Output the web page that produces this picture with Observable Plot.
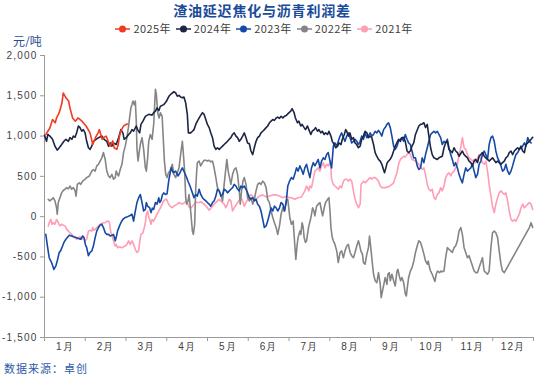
<!DOCTYPE html>
<html><head><meta charset="utf-8">
<script src="https://cdn.jsdelivr.net/npm/d3@7"></script>
<script src="https://cdn.jsdelivr.net/npm/@observablehq/plot@0.6"></script>
<style>
body{margin:0;background:#fff;width:550px;height:378px;position:relative;overflow:hidden;font-family:"Noto Sans CJK SC",sans-serif;}
#title{position:absolute;left:0;top:0;width:524px;height:20.4px;text-align:center;font-size:14px;letter-spacing:0.8px;font-weight:bold;color:#1a4b9b;line-height:20.4px;}
#legend{position:absolute;left:0;top:22px;width:528px;height:13px;display:flex;justify-content:center;gap:5px;font-size:11px;letter-spacing:0.4px;color:#404040;line-height:13px;}
.item{display:flex;align-items:center;white-space:nowrap;}
.item svg{margin-right:3px;flex:none;}
#unit{position:absolute;left:13px;top:34px;font-size:12px;color:#2b4c8c;line-height:14px;}
#chart{position:absolute;left:0;top:47px;}
#caption{position:absolute;left:4px;top:361px;font-size:11px;color:#2e5aa8;letter-spacing:1px;line-height:14px;}
</style></head>
<body>
<div id="title"></div>
<div id="legend"></div>
<div id="unit"></div>
<div id="chart"></div>
<div id="caption"></div>
<script>
const titleText = "渣油延迟焦化与沥青利润差";
const unitText = "元/吨";
const captionText = "数据来源：卓创";
const years = ["2025年","2024年","2023年","2022年","2021年"];
const colors = ["#f23a22","#1c2545","#1649a6","#858585","#ff9db4"];
const monthLabels = ["1月","2月","3月","4月","5月","6月","7月","8月","9月","10月","11月","12月"];
const yTicks = [-1500,-1000,-500,0,500,1000,1500,2000];
const yTickLabels = ["-1,500","-1,000","-500","0","500","1,000","1,500","2,000"];

// [day of year, value]
const d2025 = [[1,1020],[4,1100],[6,1205],[8,1165],[9,1225],[11,1290],[13,1410],[14,1535],[16,1475],[18,1435],[19,1350],[21,1225],[23,1185],[25,1225],[28,1185],[31,1125],[34,1040],[36,895],[38,980],[40,1040],[41,1080],[43,960],[44,980],[46,1000],[48,915],[49,875],[51,940],[52,855],[54,835],[55,895],[56,1000],[57,1060],[59,1125],[61,1145],[62,1150]];

const d2024 = [[0,1010],[1.5,935],[2.5,1020],[4,1000],[6,960],[7.8,875],[9.5,825],[11,855],[12.8,895],[14.5,935],[16,960],[17.8,935],[19,980],[20.5,960],[21.5,1000],[22.8,985],[24,1040],[25.3,1125],[26.5,1105],[27.8,1060],[29,1080],[30.3,1040],[31.5,935],[32.8,855],[34,835],[35.3,875],[36.5,935],[38.5,960],[40.3,980],[42.8,1000],[44.5,960],[46.5,935],[47.8,875],[49,915],[50.3,875],[51.5,915],[53.5,895],[55.3,980],[57,1080],[58.5,1040],[59.5,960],[61,980],[62.8,1020],[64,1040],[65.3,1080],[66.5,1060],[68.5,1125],[69.5,1080],[71,1040],[72,1145],[73.5,1185],[75.3,1245],[77.8,1270],[80.3,1260],[81.5,1290],[82.8,1310],[84,1350],[85.3,1315],[86.5,1370],[89,1390],[91.1,1435],[92.9,1495],[94.6,1525],[96.6,1550],[97.9,1535],[99.1,1495],[100.4,1505],[101.6,1485],[102.9,1475],[104.1,1485],[105.4,1410],[106.6,1270],[107.4,1040],[109.1,1040],[110.4,1060],[111.6,1080],[112.9,1145],[114.1,1185],[116.1,1245],[117.9,1290],[119.1,1270],[120.4,1205],[121.6,1145],[122.9,1105],[124.1,1040],[125.4,980],[126.6,875],[127.9,835],[129.1,855],[130.4,835],[131.6,855],[132.9,875],[134.1,895],[135.4,915],[136.6,935],[137.9,960],[139.1,980],[140.4,1020],[141.6,1040],[142.9,1000],[144.1,980],[145.4,935],[146.6,960],[147.9,1000],[149.1,1040],[150.4,980],[151.6,915],[152.9,905],[154.1,815],[155.4,770],[156.6,855],[157.9,935],[159.1,980],[160.4,1000],[161.6,1040],[162.9,1060],[164.1,1080],[165.4,1105],[166.6,1125],[167.9,1165],[169.1,1185],[170.4,1205],[171.6,1195],[172.9,1225],[174.1,1235],[175.4,1220],[176.6,1245],[177.9,1225],[179.1,1245],[180.4,1255],[181.6,1275],[183.8,1310],[184.8,1340],[186.3,1290],[187.3,1225],[188.8,1165],[189.8,1185],[191.3,1125],[192.3,1145],[193.8,1105],[194.8,1080],[196.3,1125],[197.3,1080],[198.8,1020],[199.8,1060],[201.3,1080],[202.3,1105],[203.8,1060],[204.8,1080],[206.3,1040],[207.3,1060],[208.8,1020],[209.8,1040],[211.3,1020],[212.3,1060],[213.8,1000],[214.8,935],[216.3,895],[217.3,855],[218.8,875],[219.8,915],[221.3,895],[222.3,960],[223.8,1020],[224.8,1080],[225.6,1060],[226.8,1000],[228,1040],[229.3,960],[230.6,980],[231.8,915],[233,895],[234.3,855],[235.6,875],[236.8,960],[238,1000],[239.3,1060],[240.6,1040],[241.8,980],[243,1000],[244.3,980],[245.6,895],[246.8,795],[248,750],[249.3,710],[250.6,690],[251.8,650],[253,585],[253.8,545],[254.8,605],[255.8,670],[256.8,690],[258,710],[259.3,750],[260.6,815],[261.8,875],[263,915],[264.3,960],[265.6,935],[266.8,980],[268,985],[269.3,935],[270.6,815],[271.8,795],[273,815],[274.3,875],[275.6,915],[276.9,1020],[279.4,1125],[280.7,1145],[281.9,1150],[283.2,1165],[284.4,1105],[285.7,1145],[286.9,1000],[288.2,855],[289.4,770],[290.7,730],[293.2,710],[294.4,730],[296.9,750],[298.2,855],[299.4,915],[300.7,935],[301.9,835],[303.2,815],[304.4,795],[305.7,855],[306.9,815],[308.2,795],[309.4,750],[311.9,815],[313.2,770],[315.7,730],[316.9,690],[318.2,670],[319.4,630],[320.7,690],[321.9,710],[323.2,670],[324.4,750],[325.7,770],[326.9,795],[328.2,750],[329.4,730],[330.7,710],[331.9,690],[333.2,710],[334.4,730],[335.7,700],[336.9,670],[338.2,690],[339.4,670],[340.7,650],[341.9,670],[343.2,690],[344.4,730],[345.7,750],[346.9,795],[348.2,815],[349.4,770],[350.7,815],[351.9,835],[353.2,855],[354.4,835],[355.7,875],[356.9,815],[358.2,795],[359.4,895],[360.7,915],[361.9,935],[363.2,960],[364.4,985]];

const d2023 = [[1,-220],[2,-345],[3.5,-510],[5.3,-570],[7,-655],[8.5,-610],[9.5,-550],[11,-445],[12,-425],[13.5,-365],[14.5,-320],[16,-280],[17,-260],[18.5,-230],[20.3,-240],[21.5,-250],[23.5,-260],[25.3,-270],[27,-280],[28.5,-240],[29.5,-260],[30.5,-345],[31.5,-385],[32.8,-485],[34,-445],[35.3,-425],[36.5,-365],[37.8,-260],[39,-180],[40.3,-135],[41.5,-105],[42.8,-95],[44,-135],[45.3,-200],[46.5,-220],[47.8,-220],[49,-240],[50.3,-230],[51.5,-220],[52.8,-300],[53.5,-260],[54.5,-180],[56,-115],[57,-75],[58.5,-35],[60.3,-10],[62,0],[64,15],[65.3,30],[66.5,-55],[67.8,70],[69,175],[70.3,235],[71.5,275],[72.8,175],[74,70],[75.3,90],[76,175],[77,130],[78.5,110],[79.5,50],[80.5,105],[81.5,90],[82.8,175],[84,155],[85.3,235],[86,175],[87,200],[88,270],[89,295],[90.3,275],[91.5,285],[92.9,465],[94.6,605],[96.1,545],[97.9,565],[99.6,505],[101.1,545],[102.9,605],[104.6,545],[106.1,485],[107.1,440],[108.6,380],[110.4,295],[111.6,235],[112.9,275],[114.1,255],[115.4,340],[116.6,275],[117.9,235],[119.1,215],[120.4,195],[121.6,175],[122.9,155],[124.1,130],[125.4,175],[126.6,195],[127.9,255],[129.1,340],[130.4,320],[131.6,255],[132.9,275],[134.1,340],[135.4,325],[136.6,295],[137.9,320],[139.1,340],[140.4,360],[141.6,400],[142.9,380],[144.1,340],[145.4,320],[146.6,380],[147.9,360],[149.1,380],[150.4,340],[151.6,295],[152.9,235],[154.1,215],[155.4,235],[156.6,195],[157.9,215],[159.1,155],[160.4,130],[161.6,70],[162.9,-35],[164.1,-135],[165.4,-115],[166.6,-55],[167.9,30],[169.1,110],[170.4,70],[171.6,130],[172.9,110],[174.1,70],[175.4,110],[176.6,175],[177.9,155],[179.1,70],[180.4,175],[181.6,380],[182.9,440],[184.3,485],[185.6,465],[186.8,525],[188.1,605],[189.3,565],[190.6,630],[191.8,585],[193.1,525],[194.3,605],[195.6,650],[196.8,565],[198.1,485],[199.3,605],[200.6,670],[201.8,630],[203.1,670],[204.3,710],[205.6,605],[206.8,690],[208.1,730],[209.3,710],[210.6,770],[211.8,795],[213.1,690],[214.3,605],[215.1,770],[215.6,875],[216.8,915],[218.1,875],[219.3,935],[220.6,1000],[221.8,1040],[223.1,980],[224.3,935],[225.6,1000],[226.8,1040],[228.1,980],[229.3,915],[230.6,935],[231.8,960],[233.1,935],[234.3,895],[235.6,935],[236.8,1000],[238.1,960],[239.3,1040],[240.6,980],[241.8,1000],[243.1,1040],[244.3,1000],[245.6,1020],[246.8,1060],[248.1,1040],[249.3,1070],[250.6,1040],[251.8,1000],[253.1,1080],[254.3,1105],[255.6,1145],[256.8,1165],[258.1,1105],[259.3,1000],[260.6,875],[261.8,835],[263.1,875],[264.3,935],[265.6,960],[266.8,980],[268.1,935],[269.3,1020],[270.6,960],[271.8,915],[273.1,895],[274.3,815],[275.6,730],[276.9,730],[278.2,630],[279.4,585],[280.7,605],[281.9,730],[283.2,670],[284.4,770],[285.7,855],[286.9,935],[288.2,1020],[289.4,1040],[290.7,1060],[291.9,1040],[293.2,1060],[294.4,1020],[295.7,980],[296.9,895],[298.2,935],[299.4,915],[300.7,960],[301.9,855],[303.2,770],[304.4,710],[305.7,630],[306.9,670],[308.2,605],[309.4,525],[310.7,465],[311.9,420],[313.2,525],[314.4,605],[315.7,565],[316.9,585],[318.2,605],[319.4,650],[320.7,565],[321.9,485],[323.2,525],[324.4,650],[325.7,690],[326.9,770],[328.2,815],[329.4,770],[330.7,710],[331.9,895],[333.2,980],[334.4,1000],[335.7,935],[336.9,815],[338.2,730],[339.4,690],[340.7,630],[341.9,565],[343.2,585],[344.4,650],[345.7,565],[346.9,525],[348.2,565],[349.4,630],[350.7,710],[351.9,770],[353.2,795],[354.4,835],[355.7,855],[356.9,875],[358.2,915],[359.4,875],[360.7,980],[361.9,935],[363.2,915]];

const d2022 = [[2.8,215],[4,195],[5.3,215],[6.5,235],[7.8,195],[9,110],[9.5,30],[10.3,175],[11.5,235],[12.8,295],[14,325],[15.3,340],[16.5,360],[17.8,345],[19,380],[20.3,340],[21.5,360],[22.8,325],[23.5,255],[24.5,400],[26,420],[27,400],[28.5,440],[30.3,465],[31.5,485],[33.5,505],[35.3,565],[36.5,585],[37.8,565],[39,630],[40.3,650],[41.5,690],[42.8,730],[44,795],[45.3,710],[46.5,565],[47.8,505],[49,485],[50.3,525],[51.5,465],[52.8,485],[53.5,565],[54.5,525],[55.3,505],[56.5,585],[57.8,650],[59,795],[60.3,875],[61.5,980],[62.8,1125],[63.5,1225],[64.5,1350],[65.3,1390],[66,1435],[67,1390],[67.8,1435],[68.5,1185],[69,855],[69.8,690],[70.8,815],[71.5,895],[72.8,980],[74,835],[75.3,605],[76,565],[77,730],[77.8,935],[79,1020],[80.3,960],[81.5,1145],[82.8,1580],[83.5,1515],[84.5,1290],[85.5,1225],[86.5,1290],[87.8,1245],[88.5,1020],[89.5,690],[90.5,525],[91.5,485],[92.5,545],[93.6,565],[95.4,650],[96.6,525],[97.9,485],[99.1,545],[100.4,605],[101.6,770],[102.9,935],[103.6,795],[104.6,565],[105.4,235],[106.1,155],[107.1,195],[107.9,275],[109.1,70],[110.4,-180],[111.1,-220],[112.1,-95],[112.9,360],[113.6,565],[114.1,670],[115.4,690],[116.6,630],[117.9,670],[119.1,700],[120.4,700],[121.6,690],[122.9,700],[124.1,680],[125.4,690],[126.6,605],[127.9,485],[129.1,360],[130.4,320],[131.6,275],[132.9,195],[134.1,400],[135.4,605],[136.1,710],[137.1,565],[138.1,485],[139.1,400],[140.4,525],[141.6,585],[142.9,605],[144.1,525],[145.4,320],[146.1,155],[147.1,320],[148.1,440],[149.1,485],[150.4,400],[151.6,235],[152.9,195],[154.1,235],[155.4,155],[156.6,215],[157.9,320],[159.1,400],[160.4,420],[161.6,400],[162.9,440],[164.1,420],[165.4,360],[166.6,215],[167.9,175],[169.1,70],[170.4,-10],[171.6,-75],[172.9,-135],[174.1,-220],[175.4,-115],[176.6,30],[177.9,110],[179.1,70],[180.4,195],[181.6,215],[183.1,-10],[184.3,-95],[185.6,-55],[186.8,-345],[187.6,-530],[188.6,-345],[189.3,-260],[190.6,-180],[191.3,-220],[192.3,-75],[193.1,-135],[193.8,-260],[194.8,-320],[195.6,-300],[196.3,-220],[197.3,-115],[198.3,-55],[199.3,30],[200.1,110],[201.1,70],[201.8,10],[203.1,130],[204.3,155],[205.6,175],[206.8,70],[207.6,10],[208.8,110],[209.8,175],[211.3,215],[212.3,235],[213.1,70],[213.8,-135],[214.8,-260],[215.6,-300],[216.8,-345],[218.1,-425],[219.3,-570],[220.6,-445],[221.8,-425],[223.1,-510],[224.3,-425],[225.6,-365],[226.8,-345],[228.1,-445],[229.3,-485],[230.6,-510],[231.8,-445],[233.1,-365],[234.3,-300],[235.1,-345],[236.1,-425],[237.3,-465],[238.1,-570],[239.3,-590],[240.6,-465],[241.8,-385],[242.6,-240],[243.3,-345],[244.3,-510],[245.6,-715],[246.8,-795],[248.1,-820],[249.3,-695],[250.6,-840],[251.3,-1005],[252.3,-920],[253.3,-840],[254.3,-755],[255.6,-840],[256.3,-715],[257.3,-695],[258.1,-795],[259.3,-715],[260.6,-795],[261.8,-860],[263.1,-675],[263.8,-655],[264.8,-735],[265.8,-795],[266.8,-755],[268.1,-820],[269.3,-960],[270.1,-985],[270.8,-880],[271.8,-755],[273.1,-675],[274.4,-630],[275.7,-550],[276.9,-445],[278.2,-365],[279.4,-300],[280.7,-320],[281.9,-385],[283.2,-465],[284.4,-550],[285.7,-590],[286.4,-550],[287.4,-630],[288.2,-675],[289.4,-715],[290.7,-775],[291.4,-805],[292.4,-715],[293.4,-675],[294.9,-695],[295.9,-675],[296.9,-685],[298.2,-675],[299.4,-510],[300.7,-385],[301.9,-405],[303.2,-425],[304.4,-445],[305.7,-385],[306.9,-365],[308.2,-300],[309.4,-180],[310.7,-135],[311.9,-220],[313.2,-385],[314.4,-445],[315.7,-510],[316.9,-485],[318.2,-550],[319.4,-610],[320.7,-675],[321.9,-695],[323.2,-695],[324.4,-630],[325.7,-570],[326.9,-510],[328.2,-675],[329.4,-695],[330.7,-715],[331.9,-675],[333.2,-385],[334.4,-200],[335.7,-180],[336.9,-200],[338.2,-260],[339.4,-425],[340.7,-590],[341.9,-675],[343.2,-695],[361.9,-135],[363.2,-75],[364.4,-135]];

const d2021 = [[2.8,-115],[4,-55],[4.8,-35],[5.5,-95],[6.5,-75],[7.8,-95],[9,-35],[10.3,-75],[11.5,-115],[12.8,-95],[14,-105],[15.3,-115],[16.5,-155],[17.8,-180],[19,-200],[20.3,-220],[21.5,-240],[22.8,-260],[24,-280],[25.3,-260],[26.5,-250],[27.8,-280],[29,-260],[30.3,-300],[31.5,-280],[32.8,-180],[34,-170],[35.3,-180],[36,-135],[37,-170],[38,-155],[39,-135],[40.3,-115],[41.5,-95],[42.8,-85],[44,-75],[45.3,-75],[46.5,-60],[47.8,-55],[48.5,-75],[49.5,-200],[50.5,-240],[51.5,-300],[52.8,-365],[53.5,-345],[54.5,-385],[56,-375],[57.8,-385],[59,-375],[60.3,-365],[61.5,-345],[62.8,-300],[64,-345],[65.3,-300],[66.5,-345],[67.8,-405],[69,-445],[70.3,-425],[71,-320],[72,-220],[73.5,-200],[74.5,-135],[75.3,-75],[76,30],[77,70],[77.8,-10],[78.5,-35],[79.5,-95],[80.3,-35],[81.5,-55],[82.8,-10],[84,30],[85.3,70],[86.5,110],[87.8,155],[89,195],[90.3,215],[91.1,215],[92.1,175],[93.6,130],[95.4,110],[96.6,130],[99.1,155],[100.4,175],[102.9,155],[105.4,185],[106.6,175],[107.9,120],[109.1,105],[110.4,130],[112.9,175],[115.4,175],[116.6,185],[119.1,155],[121.6,110],[122.9,80],[124.1,105],[126.6,155],[129.1,195],[130.4,215],[131.6,195],[134.1,155],[135.4,110],[136.6,155],[137.9,215],[139.1,195],[140.4,70],[141.6,110],[144.1,175],[146.6,235],[147.9,195],[149.1,130],[150.4,175],[152.9,255],[154.1,275],[156.6,235],[157.9,215],[160.4,255],[162.9,270],[165.4,245],[167.9,255],[170.4,270],[172.9,270],[175.4,255],[177.9,235],[180.4,255],[182.9,235],[184.3,235],[186.8,215],[189.3,235],[191.8,245],[194.3,320],[195.6,380],[196.3,360],[197.3,320],[198.1,380],[199.3,360],[200.6,465],[201.8,565],[203.1,585],[204.3,605],[205.6,565],[206.8,630],[208.1,670],[209.3,605],[210.6,650],[211.8,630],[213.1,670],[213.8,605],[214.3,465],[215.6,400],[216.8,380],[218.1,360],[219.3,340],[220.6,380],[221.8,360],[223.1,440],[224.3,465],[225.6,465],[226.8,440],[228.1,465],[229.3,440],[230.6,320],[231.8,215],[233.1,155],[234.3,110],[235.6,155],[236.3,400],[237.3,420],[238.3,440],[239.3,420],[240.6,440],[241.8,465],[243.1,485],[244.3,465],[245.6,485],[246.8,485],[248.1,465],[249.3,440],[250.6,380],[251.8,360],[254.3,360],[256.8,370],[259.3,400],[260.6,420],[261.8,485],[263.1,545],[264.3,650],[265.6,710],[266.8,730],[268.1,750],[269.3,740],[270.6,770],[271.8,795],[273.1,770],[274.4,710],[276.9,690],[279.4,650],[281.9,585],[283.2,605],[284.4,525],[285.7,400],[286.9,340],[288.2,320],[289.4,340],[290.7,235],[291.9,215],[293.2,275],[294.4,295],[295.7,360],[296.9,320],[298.2,380],[299.4,485],[300.7,525],[301.9,545],[303.2,505],[304.4,545],[305.7,565],[306.9,605],[308.2,650],[309.4,770],[310.7,855],[311.9,980],[313.2,855],[314.4,835],[315.7,770],[316.9,730],[318.2,710],[319.4,690],[320.7,710],[321.9,670],[324.4,770],[326.9,670],[328.2,650],[329.4,690],[330.7,565],[331.9,400],[333.2,255],[334.4,130],[335.7,50],[336.9,155],[338.2,235],[339.4,295],[340.7,320],[341.9,295],[343.2,275],[344.4,295],[345.7,195],[346.9,70],[348.2,-35],[349.4,-55],[350.7,-35],[351.9,-55],[353.2,-10],[354.4,30],[355.7,110],[356.9,155],[358.2,110],[359.4,130],[360.7,155],[361.9,175],[363.2,155],[364.4,90]];

const seriesData = [d2025, d2024, d2023, d2022, d2021];

document.getElementById("title").textContent = titleText;
document.getElementById("unit").textContent = unitText;
document.getElementById("caption").textContent = captionText;

const legend = document.getElementById("legend");
years.forEach((y, i) => {
  const it = document.createElement("div");
  it.className = "item";
  it.innerHTML = `<svg width="15" height="10"><line x1="0" y1="5" x2="15" y2="5" stroke="${colors[i]}" stroke-width="1.5"/><circle cx="7.5" cy="5" r="3.5" fill="${colors[i]}"/></svg><span>${y}</span>`;
  legend.appendChild(it);
});

const monthW = 365 / 12;
const monthEdges = d3.range(13).map(i => i * monthW);
const monthMids = d3.range(12).map(i => (i + 0.5) * monthW);

const drawOrder = [4, 3, 2, 1, 0];
const lineMarks = drawOrder.map(i => Plot.line(
  seriesData[i].map(([day, value]) => ({day, value})),
  {x: "day", y: "value", stroke: colors[i], strokeWidth: 1.6, curve: "linear"}
));

const chart = Plot.plot({
  width: 550, height: 313,
  marginTop: 8, marginBottom: 23, marginLeft: 44, marginRight: 17,
  style: {fontFamily: "'Liberation Sans', sans-serif", fontSize: "10px", color: "#404040", background: "#fff", letterSpacing: "1.2px"},
  x: {domain: [0, 365]},
  y: {domain: [-1500, 2000]},
  marks: [
    Plot.axisY({ticks: yTicks, tickFormat: d => yTickLabels[yTicks.indexOf(d)], tickSize: 4, tickPadding: 3, stroke: "#9a9a9a", label: null}),
    Plot.axisX({ticks: monthEdges, tickFormat: () => "", tickSize: 4, stroke: "#9a9a9a", label: null}),
    Plot.axisX({ticks: monthMids, tickFormat: d => monthLabels[monthMids.indexOf(d)], tickSize: 0, tickPadding: 5, label: null}),
    Plot.ruleX([0], {stroke: "#9a9a9a"}),
    Plot.ruleY([-1500], {stroke: "#9a9a9a"}),
    ...lineMarks
  ]
});
document.getElementById("chart").appendChild(chart);
</script>
</body></html>
